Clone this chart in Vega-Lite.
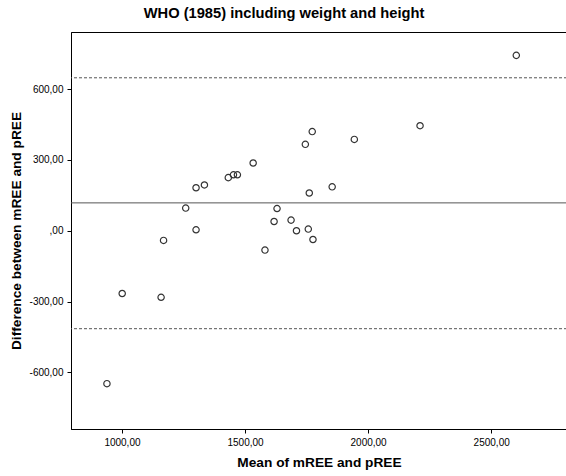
{
  "$schema": "https://vega.github.io/schema/vega-lite/v6.json",
  "width": 496,
  "height": 397,
  "autosize": {"type": "none"},
  "padding": {"left": 71, "top": 32, "right": 0, "bottom": 47},
  "background": "white",
  "config": {
    "font": "Liberation Sans",
    "view": {"stroke": "#000", "strokeWidth": 1},
    "axis": {
      "grid": false,
      "domainColor": "#000",
      "tickColor": "#000",
      "tickSize": 4,
      "labelFontSize": 10,
      "labelColor": "#000",
      "labelFont": "Liberation Sans",
      "titleFont": "Liberation Sans",
      "titleFontSize": 13.7,
      "titleFontWeight": "bold",
      "titleColor": "#000"
    }
  },
  "title": {
    "text": "WHO (1985) including weight and height",
    "fontSize": 14.7,
    "fontWeight": "bold",
    "font": "Liberation Sans",
    "color": "#000",
    "dx": -35,
    "offset": 11
  },
  "datasets": {
    "points": [
      {"mean": 2602, "diff": 743},
      {"mean": 2211, "diff": 445},
      {"mean": 1773, "diff": 420},
      {"mean": 1745, "diff": 366},
      {"mean": 1944, "diff": 387},
      {"mean": 1854, "diff": 186},
      {"mean": 1761, "diff": 160},
      {"mean": 1757, "diff": 7},
      {"mean": 1776, "diff": -37},
      {"mean": 1533, "diff": 287},
      {"mean": 1432, "diff": 225},
      {"mean": 1453, "diff": 237},
      {"mean": 1469, "diff": 237},
      {"mean": 1301, "diff": 182},
      {"mean": 1335, "diff": 194},
      {"mean": 1259, "diff": 96},
      {"mean": 1630, "diff": 94},
      {"mean": 1618, "diff": 39},
      {"mean": 1687, "diff": 45},
      {"mean": 1709, "diff": 0},
      {"mean": 1301, "diff": 4},
      {"mean": 1169, "diff": -41},
      {"mean": 1581, "diff": -82},
      {"mean": 1001, "diff": -266},
      {"mean": 1159, "diff": -282},
      {"mean": 939, "diff": -648}
    ],
    "limits": [
      {"value": 118, "kind": "mean"},
      {"value": 648, "kind": "upper"},
      {"value": -415, "kind": "lower"}
    ]
  },
  "layer": [
    {
      "data": {"name": "limits"},
      "mark": {"type": "rule", "color": "#555", "strokeWidth": 1},
      "encoding": {
        "y": {"field": "value", "type": "quantitative", "scale": {"domain": [-840, 842], "nice": false, "zero": false}},
        "strokeDash": {
          "field": "kind",
          "type": "nominal",
          "scale": {"domain": ["mean", "upper", "lower"], "range": [[1, 0], [3, 2], [3, 2]]},
          "legend": null
        }
      }
    },
    {
      "data": {"name": "points"},
      "mark": {"type": "point", "shape": "circle", "filled": false, "stroke": "#333", "strokeWidth": 1.2, "size": 40, "opacity": 1},
      "encoding": {
        "x": {
          "field": "mean",
          "type": "quantitative",
          "scale": {"domain": [793, 2808], "nice": false, "zero": false},
          "axis": {
            "title": "Mean of mREE and pREE",
            "values": [1000, 1500, 2000, 2500],
            "labelExpr": "datum.value + ',00'",
            "labelPadding": 4,
            "titlePadding": 8
          }
        },
        "y": {
          "field": "diff",
          "type": "quantitative",
          "scale": {"domain": [-840, 842], "nice": false, "zero": false},
          "axis": {
            "title": "Difference between mREE and pREE",
            "values": [-600, -300, 0, 300, 600],
            "labelExpr": "datum.value == 0 ? ',00' : datum.value + ',00'",
            "labelPadding": 4,
            "titlePadding": 6
          }
        }
      }
    }
  ]
}
